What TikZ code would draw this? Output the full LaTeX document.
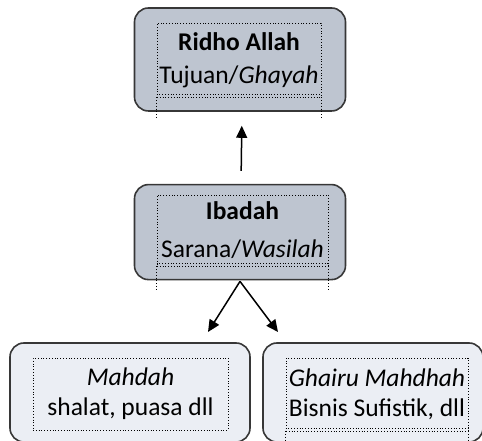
\documentclass[tikz,border=0pt]{standalone}
\usepackage{fontspec}
\setmainfont{Carlito}
\usepackage{xcolor}
\usetikzlibrary{arrows.meta,positioning}
\definecolor{boxgray}{RGB}{190,197,208}
\definecolor{boxlight}{RGB}{235,238,244}
\definecolor{boxline}{RGB}{55,55,55}

\begin{document}
\begin{tikzpicture}[
    x=1pt, y=1pt,
    font=\fontsize{25.5}{33}\selectfont,
    box/.style={
        draw=boxline,
        line width=1.6pt,
        rounded corners=14pt,
        inner sep=0pt
    },
    darkbox/.style={box, fill=boxgray, minimum width=211pt},
    lightbox/.style={box, fill=boxlight, minimum height=99pt},
    frame/.style={draw, dotted, line width=0.8pt, inner sep=0pt, align=center},
    arrow/.style={-{Triangle[length=12pt,width=11pt]}, line width=1.5pt}
]
\path[use as bounding box, clip] (0,0) rectangle (482,441);

\node[darkbox, minimum height=103pt] (ridho) at (240,381.5) {};
\node[darkbox, minimum height=95pt, below=72pt of ridho] (ibadah) {};
\node[lightbox, minimum width=240pt] (mahdah) at (130,48.5) {};
\node[lightbox, minimum width=220pt] (ghairu) at (373,48.5) {};

\node[frame, minimum width=164pt, minimum height=74pt] (ridhotxt) at (239,381)
    {\textbf{Ridho Allah}\\Tujuan/\textit{Ghayah}};
\node[frame, minimum width=171pt, minimum height=71pt] (ibadahtxt) at (242.5,210.5)
    {\textbf{Ibadah}\\[5pt]Sarana/\textit{Wasilah}};
\node[frame, minimum width=195pt, minimum height=72pt] (mahdahtxt) at (130.5,47)
    {\textit{Mahdah}\\[-3pt]shalat, puasa dll};
\node[frame, minimum width=182pt, minimum height=73pt] (ghairutxt) at (377,46.5)
    {\textit{Ghairu Mahdhah}\\[-3pt]Bisnis Sufistik, dll};

\draw[frame] ([yshift=3pt]ridhotxt.south west) -- ([yshift=3pt]ridhotxt.south east);
\draw[frame] (ridhotxt.south west) -- ++(0,-20);
\draw[frame] (ridhotxt.south east) -- ++(0,-20);
\draw[frame] ([yshift=3pt]ibadahtxt.south west) -- ([yshift=3pt]ibadahtxt.south east);
\draw[frame] (ibadahtxt.south west) -- ++(0,-23);
\draw[frame] (ibadahtxt.south east) -- ++(0,-23);
\draw[frame] ([yshift=3pt]ghairutxt.south west) -- ([yshift=3pt]ghairutxt.south east);
\draw[frame] (ghairutxt.south west) -- ++(0,-20);
\draw[frame] (ghairutxt.south east) -- ++(0,-20);

\coordinate (tipL) at (208,109);
\coordinate (tipR) at (278,109);

\draw[arrow, shorten <=13pt, shorten >=14pt] ([xshift=1pt]ibadah.north) -- ([xshift=2pt]ridho.south);
\draw[arrow] ([yshift=-1pt]ibadah.south) -- (tipL);
\draw[arrow] ([yshift=-1pt]ibadah.south) -- (tipR);
\end{tikzpicture}
\end{document}
